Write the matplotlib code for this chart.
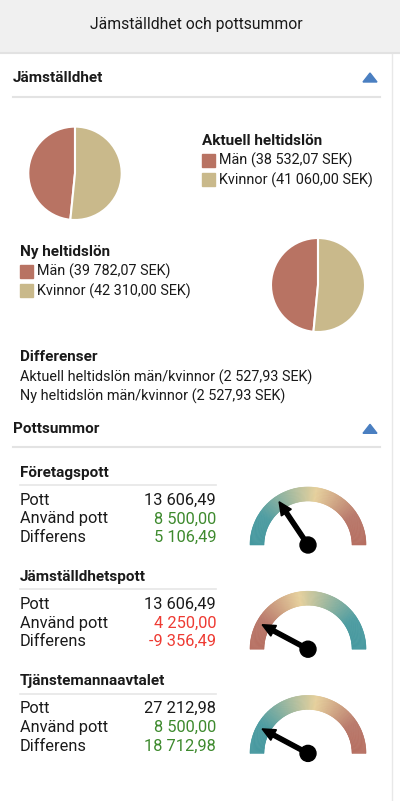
import numpy as np
import matplotlib.pyplot as plt
from matplotlib.patches import Wedge, Circle, Rectangle, Polygon
from matplotlib.colors import LinearSegmentedColormap

# --- data ---
title = "Jämställdhet och pottsummor"
pie_labels = ["Män", "Kvinnor"]
aktuell_lon = [38532.07, 41060.00]
ny_lon = [39782.07, 42310.00]

pot_names = ["Företagspott", "Jämställdhetspott", "Tjänstemannaavtalet"]
pott = [13606.49, 13606.49, 27212.98]
anvand = [8500.00, 4250.00, 8500.00]
differens = [5106.49, -9356.49, 18712.98]

pie_colors = ["#b87363", "#c9b98b"]
gauge_stops = [(0.0, "#45989f"), (0.18, "#4c9ca1"), (0.55, "#e6d09c"), (0.82, "#b9786a"), (1.0, "#b66e60")]
green, red, black = "#3e8a2e", "#ee3b33", "#1a1a1a"

W, H = 400, 801
plt.rcParams['font.family'] = ['Roboto', 'DejaVu Sans']

fig = plt.figure(figsize=(W / 100, H / 100), dpi=100)
ax = fig.add_axes([0, 0, 1, 1])
ax.set_xlim(0, W)
ax.set_ylim(H, 0)
ax.axis('off')


def fmt(v):
    return f"{v:,.2f}".replace(",", " ").replace(".", ",")


def px_axes(x0, y0, w, h):
    """ Add an axes placed by pixel box (top-left origin). """
    a = fig.add_axes([x0 / W, 1 - (y0 + h) / H, w / W, h / H])
    a.axis('off')
    return a


def section(y_base, text, line_y):
    ax.text(13, y_base, text, fontsize=11, fontweight='bold', color=black, va='baseline')
    ax.add_patch(Polygon([[363, y_base], [377, y_base], [370, y_base - 9]], color='#4a7fc1'))
    ax.plot([13, 380], [line_y, line_y], color='#e3e3e3', lw=1.5)


def pie(cx, cy, r, values):
    a = px_axes(cx - r - 2, cy - r - 2, 2 * r + 4, 2 * r + 4)
    a.pie(values, colors=pie_colors, startangle=90, radius=r / (r + 2),
          wedgeprops=dict(edgecolor='white', linewidth=1.5))
    a.set_xlim(-1, 1)
    a.set_ylim(-1, 1)


def legend(x, y_base, head, values):
    ax.text(x, y_base, head, fontsize=11, fontweight='bold', color=black, va='baseline')
    for i, (lab, v) in enumerate(zip(pie_labels, values)):
        ax.add_patch(Rectangle((x, y_base + 8.5 + i * 19.2), 13, 13, color=pie_colors[i]))
        ax.text(x + 17, y_base + 20 + i * 19.2, f"{lab} ({fmt(v)} SEK)",
                fontsize=10.4, color=black, va='baseline')


def gauge(cx, cy, frac, reverse):
    R, r = 58, 44
    ga = px_axes(cx - 66, cy - 66, 132, 78)
    ga.set_xlim(-66, 66)
    ga.set_ylim(-12, 66)
    stops = [(1 - t, c) for t, c in gauge_stops[::-1]] if reverse else gauge_stops
    cmap = LinearSegmentedColormap.from_list('g', stops)
    n = 180
    for k in range(n):
        th2 = 180 - k * 180 / n
        th1 = 180 - (k + 1) * 180 / n
        c = cmap(k / (n - 1))
        ga.add_patch(Wedge((0, 0), R, th1, th2, width=R - r, facecolor=c, edgecolor=c, lw=0.4))
    phi = np.radians(180 * (1 - frac))
    tip = 52
    ga.arrow(0, 0, tip * np.cos(phi), tip * np.sin(phi), width=4.2, head_width=12,
             head_length=13, length_includes_head=True, color='black', zorder=5)
    ga.add_patch(Circle((0, 0), 8, color='black', zorder=6))


def pot_block(y_base, name, p, a, d):
    ax.text(20, y_base, name, fontsize=11, fontweight='bold', color=black, va='baseline')
    ax.plot([20, 216], [y_base + 8.5] * 2, color='#e6e6e6', lw=1.2)
    c = green if d >= 0 else red
    rows = [("Pott", p, black), ("Använd pott", a, c), ("Differens", d, c)]
    for i, (lab, v, col) in enumerate(rows):
        y = y_base + 28.2 + i * 18.6
        ax.text(20, y, lab, fontsize=11.8, color=black, va='baseline')
        ax.text(216, y, fmt(v), fontsize=11.8, color=col, va='baseline', ha='right')


# header band
ax.add_patch(Rectangle((0, 0), W, 52, color='#f0f0f0'))
ax.plot([0, W], [53, 53], color='#e2e2e2', lw=1.5)
ax.plot([392, 392], [54, H], color='#e8e8e8', lw=1)
ax.text(196, 29, title, fontsize=11.3, color=black, ha='center', va='baseline')

# Jämställdhet
section(82, "Jämställdhet", 97)
pie(75, 173.3, 46.7, aktuell_lon)
legend(202, 145, "Aktuell heltidslön", aktuell_lon)
legend(20, 256, "Ny heltidslön", ny_lon)
pie(318, 285, 47, ny_lon)

ax.text(20, 361, "Differenser", fontsize=11, fontweight='bold', color=black, va='baseline')
ax.text(20, 381.7, f"Aktuell heltidslön män/kvinnor ({fmt(aktuell_lon[1] - aktuell_lon[0])} SEK)",
        fontsize=10.4, color=black, va='baseline')
ax.text(20, 400.7, f"Ny heltidslön män/kvinnor ({fmt(ny_lon[1] - ny_lon[0])} SEK)",
        fontsize=10.4, color=black, va='baseline')

# Pottsummor
section(433.3, "Pottsummor", 447.3)
for i, name in enumerate(pot_names):
    yb = 476.7 + i * 104.2
    pot_block(yb, name, pott[i], anvand[i], differens[i])
    gauge(308, yb + 68.3, anvand[i] / (2 * pott[i]), differens[i] < 0)

fig.savefig("out.png", dpi=100)
